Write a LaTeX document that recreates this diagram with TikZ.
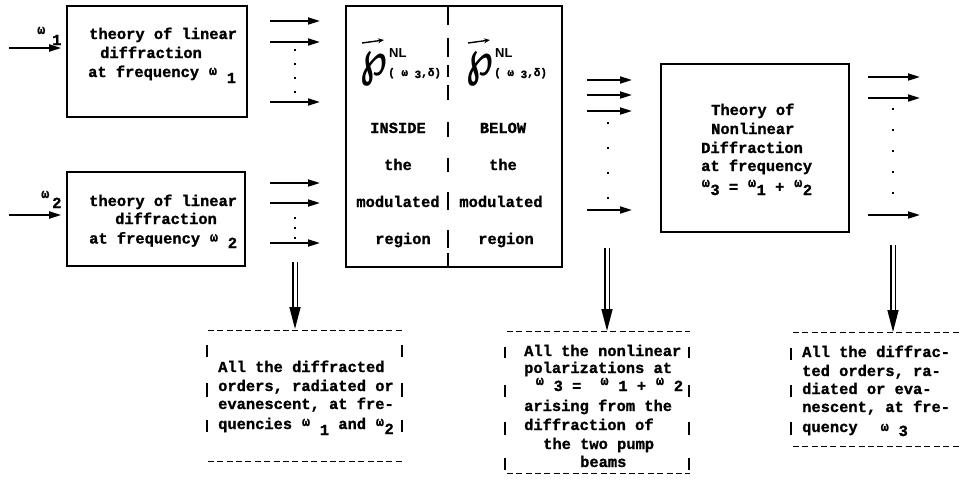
\documentclass[tikz,border=0pt]{standalone}
\usepackage{fontspec}
\setmainfont{Liberation Mono}[BoldFeatures={FakeBold=1.2}]
\setsansfont{Liberation Sans}
\newfontfamily\symfont{DejaVu Sans}
\usepackage{graphicx}
\usetikzlibrary{arrows.meta}

% small raised omega in a one-character cell, and a lowered index
\newcommand\w[1][3pt]{\makebox[0.6em]{\raisebox{#1}{\fontsize{13.5}{13.5}\selectfont ω}}}
\newcommand\sub[2][6pt]{\raisebox{-#1}{#2}}
% the script P of the nonlinear polarization
\newcommand\polP{\resizebox{27pt}{35pt}{\raisebox{\depth}{\symfont\bfseries ℘}}}

\tikzset{
  txt/.style={font=\fontsize{15.4}{18.7}\selectfont\bfseries, inner sep=0pt, anchor=base west},
  box/.style={draw, line width=1.6pt, inner sep=0pt},
  area/.style={inner sep=0pt},
  ray/.style={line width=1.8pt, -{Triangle[length=12pt,width=7pt]}},
  dots/.style={line width=2.2pt, dash pattern=on 2pt off 12pt},
  dbl/.style={double, double distance=3pt, line width=1.5pt, -{Triangle[length=22pt,width=11pt]}},
  rule/.style={line width=1.2pt, dash pattern=on 6pt off 3.4pt},
  bar/.style={line width=1.6pt},
  divider/.style={line width=1.5pt},
  vecarrow/.style={line width=1.4pt, -{Stealth[length=6pt,width=5pt]}}
}

\begin{document}
\begin{tikzpicture}[x=1pt,y=-1pt]
\useasboundingbox (0,0) rectangle (961,482);

% ---------- main boxes ----------
\node[box, minimum width=180pt, minimum height=111pt] (box1) at (157,61.5) {};
\node[box, minimum width=178pt, minimum height=94pt]  (box2) at (156,219) {};
\node[box, minimum width=216pt, minimum height=261pt] (pbox) at (454,136.5) {};
\node[box, minimum width=188pt, minimum height=168pt] (box3) at (755,148) {};

% ---------- pump inputs ----------
\coordinate (in1) at (9,48);
\coordinate (in2) at (9,215);
\draw[ray, shorten >=5pt] (in1) -- (in1 -| box1.west);
\draw[ray, shorten >=5pt] (in2) -- (in2 -| box2.west);
\node[txt] (lab1) at (37,45) {\makebox[15pt][l]{\raisebox{11pt}{\fontsize{13.5}{13.5}\selectfont ω}}1};
\node[txt] (lab2) at (41,208) {\makebox[11pt][l]{\raisebox{10pt}{\fontsize{13.5}{13.5}\selectfont ω}}2};

% ---------- linear diffraction texts ----------
\node[txt] (t1a) at (89,39) {theory of linear};
\node[txt] (t1b) at (100,58) {diffraction};
\node[txt] (t1c) at (88,77) {at frequency \w[2pt]~\sub1};
\node[txt] (t2a) at (89,206) {theory of linear};
\node[txt] (t2b) at (115,224) {diffraction};
\node[txt] (t2c) at (89,243.5) {at frequency \w[2pt]~\sub[4.5pt]2};

% ---------- diffracted orders leaving the linear boxes ----------
\foreach \n/\y in {a/21,b/42,c/102}{
  \coordinate (o1\n s) at (270,\y);
  \coordinate (o1\n e) at (320,\y);
  \draw[ray] (o1\n s) -- (o1\n e);
}
\foreach \n/\y in {a/183,b/203,c/243}{
  \coordinate (o2\n s) at (270,\y);
  \coordinate (o2\n e) at (320,\y);
  \draw[ray] (o2\n s) -- (o2\n e);
}
\coordinate (v1s) at (295,49);  \coordinate (v1e) at (295,95);
\coordinate (v2s) at (295,217); \coordinate (v2e) at (295,240);
\draw[dots] (v1s) -- (v1e);
\draw[dots, dash pattern=on 2pt off 8pt] (v2s) -- (v2e);

% ---------- nonlinear polarization box ----------
\foreach \a/\b in {6/25,38/57,65/77,85/100,122/137,158/172,192/210,230/248,253/267}
  \draw[divider] (448,\a) -- (448,\b);

\node[anchor=base, inner sep=0pt] (p1) at (374,86) {\polP};
\node[anchor=base, inner sep=0pt] (p2) at (480,86) {\polP};
\draw[vecarrow] (362,43) -- (384,40);
\draw[vecarrow] (468,43) -- (490,40);
\node[anchor=base west, inner sep=0pt, font=\fontsize{13}{13}\selectfont\sffamily\bfseries] (nl1) at (389,57) {NL};
\node[anchor=base west, inner sep=0pt, font=\fontsize{13}{13}\selectfont\sffamily\bfseries] (nl2) at (495,57) {NL};
\node[anchor=base west, inner sep=0pt, font=\fontsize{11}{11}\selectfont\bfseries] (sb1) at (388,76) {(~ω~\raisebox{-2pt}{3},δ)};
\node[anchor=base west, inner sep=0pt, font=\fontsize{11}{11}\selectfont\bfseries] (sb2) at (494,76) {(~ω~\raisebox{-2pt}{3},δ)};

\node[txt, anchor=base] (c1a) at (398,133) {INSIDE};
\node[txt, anchor=base] (c1b) at (398,170) {the};
\node[txt, anchor=base] (c1c) at (398,207) {modulated};
\node[txt, anchor=base] (c1d) at (403,244) {region};
\node[txt, anchor=base] (c2a) at (503,133) {BELOW};
\node[txt, anchor=base] (c2b) at (503,170) {the};
\node[txt, anchor=base] (c2c) at (501,207) {modulated};
\node[txt, anchor=base] (c2d) at (506,244) {region};

% ---------- polarizations feeding the nonlinear box ----------
\foreach \n/\y in {a/80,b/95,c/111,d/210}{
  \coordinate (o3\n s) at (587,\y);
  \coordinate (o3\n e) at (632,\y);
  \draw[ray] (o3\n s) -- (o3\n e);
}
\coordinate (v3s) at (608,122); \coordinate (v3e) at (608,205);
\draw[dots, dash pattern=on 2pt off 23pt] (v3s) -- (v3e);

% ---------- nonlinear diffraction box ----------
\node[txt] (t3a) at (711,115) {Theory of};
\node[txt] (t3b) at (711,134) {Nonlinear};
\node[txt] (t3c) at (701,153) {Diffraction};
\node[txt] (t3d) at (701,171) {at frequency};
\node[txt] (t3e) at (701,192) {\w[5pt]\sub[3pt]3 = \w[5pt]\sub[3pt]1 + \w[5pt]\sub[3pt]2};

\foreach \n/\y in {a/77,b/98,c/215}{
  \coordinate (o4\n s) at (868,\y);
  \coordinate (o4\n e) at (920,\y);
  \draw[ray] (o4\n s) -- (o4\n e);
}
\coordinate (v4s) at (893,108); \coordinate (v4e) at (893,205);
\draw[dots, dash pattern=on 2pt off 19pt] (v4s) -- (v4e);

% ---------- result boxes ----------
\node[area, minimum width=195pt, minimum height=130pt] (b1) at (305.5,396) {};
\node[area, minimum width=183pt, minimum height=141pt] (b2) at (598.5,402.5) {};
\node[area, minimum width=167pt, minimum height=113pt] (b3) at (876.5,389.5) {};

\foreach \b in {b1,b2,b3}{
  \draw[rule] (\b.north west) -- (\b.north east);
  \draw[rule] (\b.south west) -- (\b.south east);
}
\foreach \a/\l in {14/12,52/14,89/12}{
  \draw[bar] ([xshift=-1pt]b1.north west) ++(0,\a) -- ++(0,\l);
  \draw[bar] ([xshift=-1pt]b1.north east) ++(0,\a) -- ++(0,\l);
}
\foreach \a/\l in {15/11,53/12,90/13,126/12}{
  \draw[bar] ([xshift=-2pt]b2.north west) ++(0,\a) -- ++(0,\l);
  \draw[bar] ([xshift=-1pt]b2.north east) ++(0,\a) -- ++(0,\l);
}
\foreach \a/\l in {15/12,52/12,89/13}{
  \draw[bar] ([xshift=-2pt]b3.north west) ++(0,\a) -- ++(0,\l);
}

\coordinate (d1s) at (295,262); \coordinate (d1e) at (295,329);
\coordinate (d2s) at (607,248); \coordinate (d2e) at (607,331);
\coordinate (d3s) at (893,245); \coordinate (d3e) at (893,332);
\draw[dbl] (d1s) -- (d1e);
\draw[dbl] (d2s) -- (d2e);
\draw[dbl] (d3s) -- (d3e);

\node[txt] (r1a) at (218,372) {All the diffracted};
\node[txt] (r1b) at (218,391) {orders, radiated or};
\node[txt] (r1c) at (218,409) {evanescent, at fre-};
\node[txt] (r1d) at (218,429) {quencies \w~\sub1 and \w\sub[5pt]2};

\node[txt] (r2a) at (524,356) {All the nonlinear};
\node[txt] (r2b) at (524,373) {polarizations at};
\node[txt] (r2c) at (535,391) {\w[6pt]~\sub[0pt]3 =~ \w[6pt]~\sub[0pt]1 + \w[6pt]~\sub[0pt]2};
\node[txt] (r2d) at (524,411) {arising from the};
\node[txt] (r2e) at (524,430) {diffraction of};
\node[txt] (r2f) at (543,449) {the two pump};
\node[txt] (r2g) at (580,467) {beams};

\node[txt] (r3a) at (802,357) {All the diffrac-};
\node[txt] (r3b) at (802,376) {ted orders, ra-};
\node[txt] (r3c) at (802,394) {diated or eva-};
\node[txt] (r3d) at (802,412) {nescent, at fre-};
\node[txt] (r3e) at (802,432) {quency~~\kern4pt\w[1pt]~\sub[4pt]3};
\end{tikzpicture}
\end{document}
